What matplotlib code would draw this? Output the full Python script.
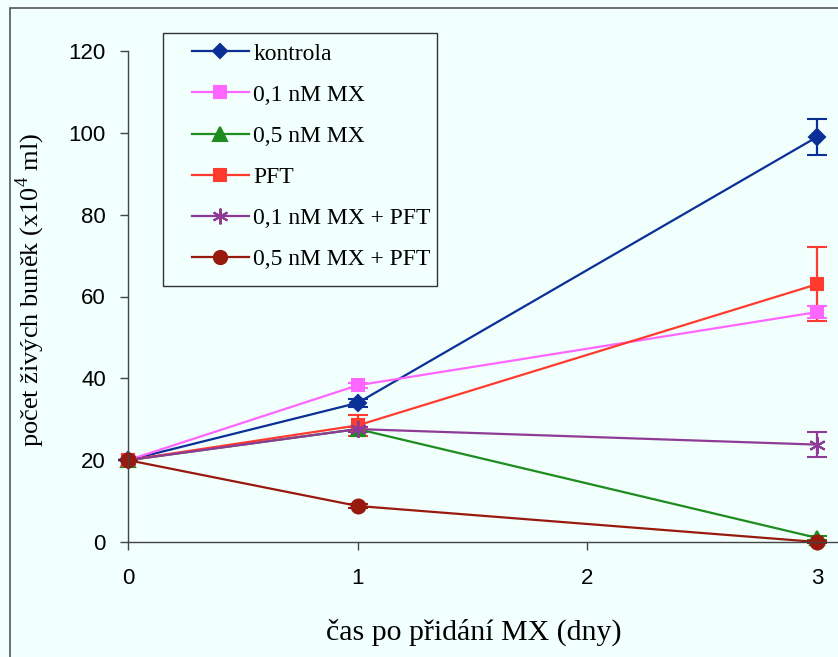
import numpy as np
import matplotlib
matplotlib.use("Agg")
import matplotlib.pyplot as plt
import matplotlib.patches as patches
from matplotlib.lines import Line2D

# data
days = [0, 1, 3]
labels = ['kontrola', '0,1 nM MX', '0,5 nM MX', 'PFT',
          '0,1 nM MX + PFT', '0,5 nM MX + PFT']
kontrola = [20, 34, 99]
mx01 = [20, 38.3, 56.2]
mx05 = [20, 27.6, 1]
pft = [20, 28.5, 63]
mx01_pft = [20, 27.6, 23.8]
mx05_pft = [20, 8.8, 0]

err_kontrola = [0, 1, 4.3]
err_mx01 = [0, 0.6, 1.5]
err_mx05 = [0, 0.6, 0.5]
err_pft = [0, 2.5, 9]
err_mx01_pft = [0, 0.6, 3.1]
err_mx05_pft = [0, 0.5, 0.3]

series = [kontrola, mx01, mx05, pft, mx01_pft, mx05_pft]
errors = [err_kontrola, err_mx01, err_mx05, err_pft, err_mx01_pft, err_mx05_pft]
colors = ['#0A2F96', '#FF66FF', '#1E8C1E', '#FF3B2F', '#8E3A96', '#98190E']
markers = ['D', 's', '^', 's', (6, 2, 0), 'o']
msizes = [8, 9, 10, 9, 12, 10]

bg = '#F1FFFD'
W, H = 838, 657

plt.rcParams['mathtext.fontset'] = 'custom'
plt.rcParams['mathtext.rm'] = 'Liberation Serif'

fig = plt.figure(figsize=(W / 100, H / 100), dpi=100, facecolor=bg)
ax = fig.add_axes([128 / W, 1 - 542 / H, 1 - 128 / W, (542 - 51) / H])
ax.set_facecolor(bg)

#outer frame of the chart area
fig.patches.append(patches.Rectangle((10 / W, -0.1), 1.2, 1 - 8 / H + 0.1,
                                     transform=fig.transFigure, fill=False,
                                     edgecolor='#555555', linewidth=1.2))

for ys, es, c, m, ms, lab in zip(series, errors, colors, markers, msizes, labels):
    ax.errorbar(days, ys, yerr=es, color=c, marker=m, markersize=ms,
                markeredgecolor=c, markeredgewidth=1.5, linewidth=1.6,
                elinewidth=1.6, capsize=7, capthick=1.6, label=lab,
                clip_on=False)

ax.set_xlim(0, (W - 128) / 229.7)
ax.set_ylim(0, 120)
ax.set_xticks([0, 1, 2, 3])
ax.set_yticks(np.arange(0, 121, 20))
for s in ['top', 'right']:
    ax.spines[s].set_visible(False)
for s in ['left', 'bottom']:
    ax.spines[s].set_color('#444444')
    ax.spines[s].set_linewidth(1.0)
ax.tick_params(direction='out', length=6, width=1.0, color='#444444',
               labelsize=16)
ax.tick_params(axis='x', pad=13)
ax.tick_params(axis='y', pad=10)
for t in ax.get_xticklabels() + ax.get_yticklabels():
    t.set_fontfamily('Liberation Sans')

ax.set_ylabel(r'počet živých buněk (x10$^{4}$ ml)', fontfamily='Liberation Serif',
              fontsize=19)
ax.yaxis.set_label_coords(30 / W, 1 - 290 / H, transform=fig.transFigure)
ax.yaxis.label.set_verticalalignment('center')
ax.set_xlabel('čas po přidání MX (dny)', fontfamily='Liberation Serif',
              fontsize=21.5)
ax.xaxis.set_label_coords(474 / W, 1 - 632 / H, transform=fig.transFigure)
ax.xaxis.label.set_verticalalignment('center')

# legend: handles without error caps, box drawn separately
handles = [Line2D([], [], color=c, marker=m, markersize=ms * 0.95,
                  markeredgecolor=c, markeredgewidth=1.5, linewidth=1.6)
           for c, m, ms in zip(colors, markers, msizes)]
box = patches.Rectangle((163 / W, 1 - 286 / H), (437 - 163) / W,
                        (286 - 33) / H, transform=fig.transFigure,
                        facecolor=bg, edgecolor='#333333', linewidth=1.0,
                        zorder=4, clip_on=False)
ax.add_artist(box)
leg = ax.legend(handles, labels, loc='upper left',
                bbox_to_anchor=(192 / W, 1 - 43 / H),
                bbox_transform=fig.transFigure, borderaxespad=0, borderpad=0,
                prop={'family': 'Liberation Serif', 'size': 17},
                frameon=False, handlelength=2.4, labelspacing=0.83,
                handletextpad=0.2)
leg.set_zorder(5)

fig.savefig('out.png', dpi=100, facecolor=bg)
